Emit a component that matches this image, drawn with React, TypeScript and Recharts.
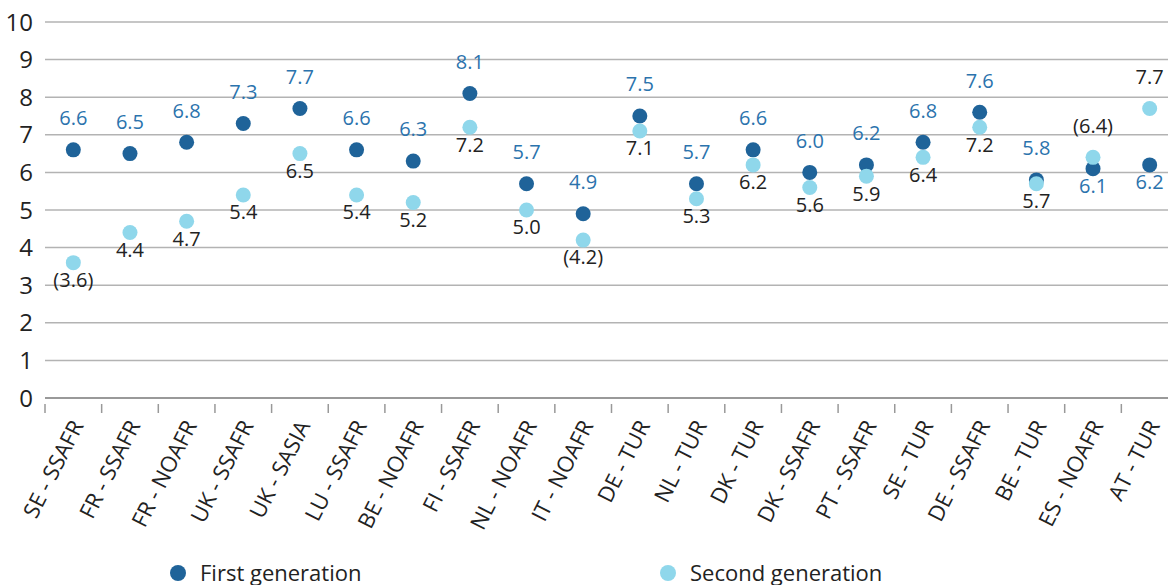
import React from 'react';
import { ComposedChart, Line, XAxis, YAxis, CartesianGrid, Legend, LabelList } from 'recharts';

const categories = ['SE - SSAFR', 'FR - SSAFR', 'FR - NOAFR', 'UK - SSAFR', 'UK - SASIA', 'LU - SSAFR', 'BE - NOAFR', 'FI - SSAFR', 'NL - NOAFR', 'IT - NOAFR', 'DE - TUR', 'NL - TUR', 'DK - TUR', 'DK - SSAFR', 'PT - SSAFR', 'SE - TUR', 'DE - SSAFR', 'BE - TUR', 'ES - NOAFR', 'AT - TUR'];
const firstGen = [6.6, 6.5, 6.8, 7.3, 7.7, 6.6, 6.3, 8.1, 5.7, 4.9, 7.5, 5.7, 6.6, 6.0, 6.2, 6.8, 7.6, 5.8, 6.1, 6.2];
const secondGen = [3.6, 4.4, 4.7, 5.4, 6.5, 5.4, 5.2, 7.2, 5.0, 4.2, 7.1, 5.3, 6.2, 5.6, 5.9, 6.4, 7.2, 5.7, 6.4, 7.7];
const firstLabels = ['6.6', '6.5', '6.8', '7.3', '7.7', '6.6', '6.3', '8.1', '5.7', '4.9', '7.5', '5.7', '6.6', '6.0', '6.2', '6.8', '7.6', '5.8', '6.1', '6.2'];
const secondLabels = ['(3.6)', '4.4', '4.7', '5.4', '6.5', '5.4', '5.2', '7.2', '5.0', '(4.2)', '7.1', '5.3', '6.2', '5.6', '5.9', '6.4', '7.2', '5.7', '(6.4)', '7.7'];
const yTicks = [0, 1, 2, 3, 4, 5, 6, 7, 8, 9, 10];

const data = categories.map((c, i) => ({ cat: c, first: firstGen[i], second: secondGen[i] }));

const FONT = '"Open Sans", sans-serif';
const DARK = '#1f6399';
const LIGHT = '#8fd7eb';
const LABEL_BLUE = '#2b73ad';
const LABEL_DARK = '#222222';
const HALF_BAND = 28.33;

const makeLabel = (mine: number[], other: number[], texts: string[], color: string) => (props: any) => {
  const { x, y, index } = props;
  if (x == null || y == null) return null;
  const above = mine[index] >= other[index];
  return (
    <text x={x} y={above ? y - 30 : y + 19} textAnchor="middle" dominantBaseline="middle" fill={color} fontSize={20} fontFamily={FONT}>
      {texts[index]}
    </text>
  );
};

const XTick = (props: any) => {
  const { x, y, payload } = props;
  return (
    <g>
      <line x1={x - HALF_BAND} x2={x - HALF_BAND} y1={y - 2} y2={y + 7} stroke="#999" strokeWidth={1.5} />
      <g transform={`translate(${x + 4},${y + 16})`}>
        <text x={0} y={0} dy="0.35em" textAnchor="end" transform="rotate(-63)" fill="#222" fontSize={22} fontFamily={FONT}>
          {payload.value}
        </text>
      </g>
    </g>
  );
};

const LegendContent = () => (
  <div style={{ position: 'relative', height: 40, width: 1168, fontFamily: FONT, fontSize: 22, color: '#222' }}>
    <div style={{ position: 'absolute', left: 170, top: 20, width: 16, height: 16, borderRadius: 8, background: DARK }} />
    <div style={{ position: 'absolute', left: 200, top: 12, lineHeight: '30px', whiteSpace: 'nowrap' }}>First generation</div>
    <div style={{ position: 'absolute', left: 660, top: 20, width: 16, height: 16, borderRadius: 8, background: LIGHT }} />
    <div style={{ position: 'absolute', left: 690, top: 12, lineHeight: '30px', whiteSpace: 'nowrap' }}>Second generation</div>
  </div>
);

export default function App() {
  return (
    <div style={{ position: 'absolute', left: 0, top: 0, width: 1168, height: 585, overflow: 'hidden', background: '#fff' }}>
      <ComposedChart width={1180} height={585} data={data} margin={{ top: 22, right: 2, left: 0, bottom: 0 }}>
        <CartesianGrid vertical={false} stroke="#b3b3b3" strokeWidth={1.5} />
        <XAxis dataKey="cat" type="category" interval={0} height={147} padding={{ left: HALF_BAND, right: HALF_BAND }} tickLine={false} axisLine={{ stroke: '#999', strokeWidth: 2 }} tick={<XTick />} />
        <YAxis domain={[0, 10]} ticks={yTicks} width={45} axisLine={false} tickLine={false} tickSize={0} tickMargin={12} tick={{ fill: '#222', fontSize: 24, fontFamily: FONT }} interval={0} />
        <Legend verticalAlign="bottom" content={<LegendContent />} wrapperStyle={{ left: 0, bottom: 0, width: 1168, height: 40 }} />
        <Line dataKey="first" name="First generation" stroke="none" isAnimationActive={false} dot={{ r: 7.5, fill: DARK, stroke: 'none' }} activeDot={false}>
          <LabelList dataKey="first" content={makeLabel(firstGen, secondGen, firstLabels, LABEL_BLUE)} />
        </Line>
        <Line dataKey="second" name="Second generation" stroke="none" isAnimationActive={false} dot={{ r: 7.5, fill: LIGHT, stroke: 'none' }} activeDot={false}>
          <LabelList dataKey="second" content={makeLabel(secondGen, firstGen, secondLabels, LABEL_DARK)} />
        </Line>
      </ComposedChart>
    </div>
  );
}
